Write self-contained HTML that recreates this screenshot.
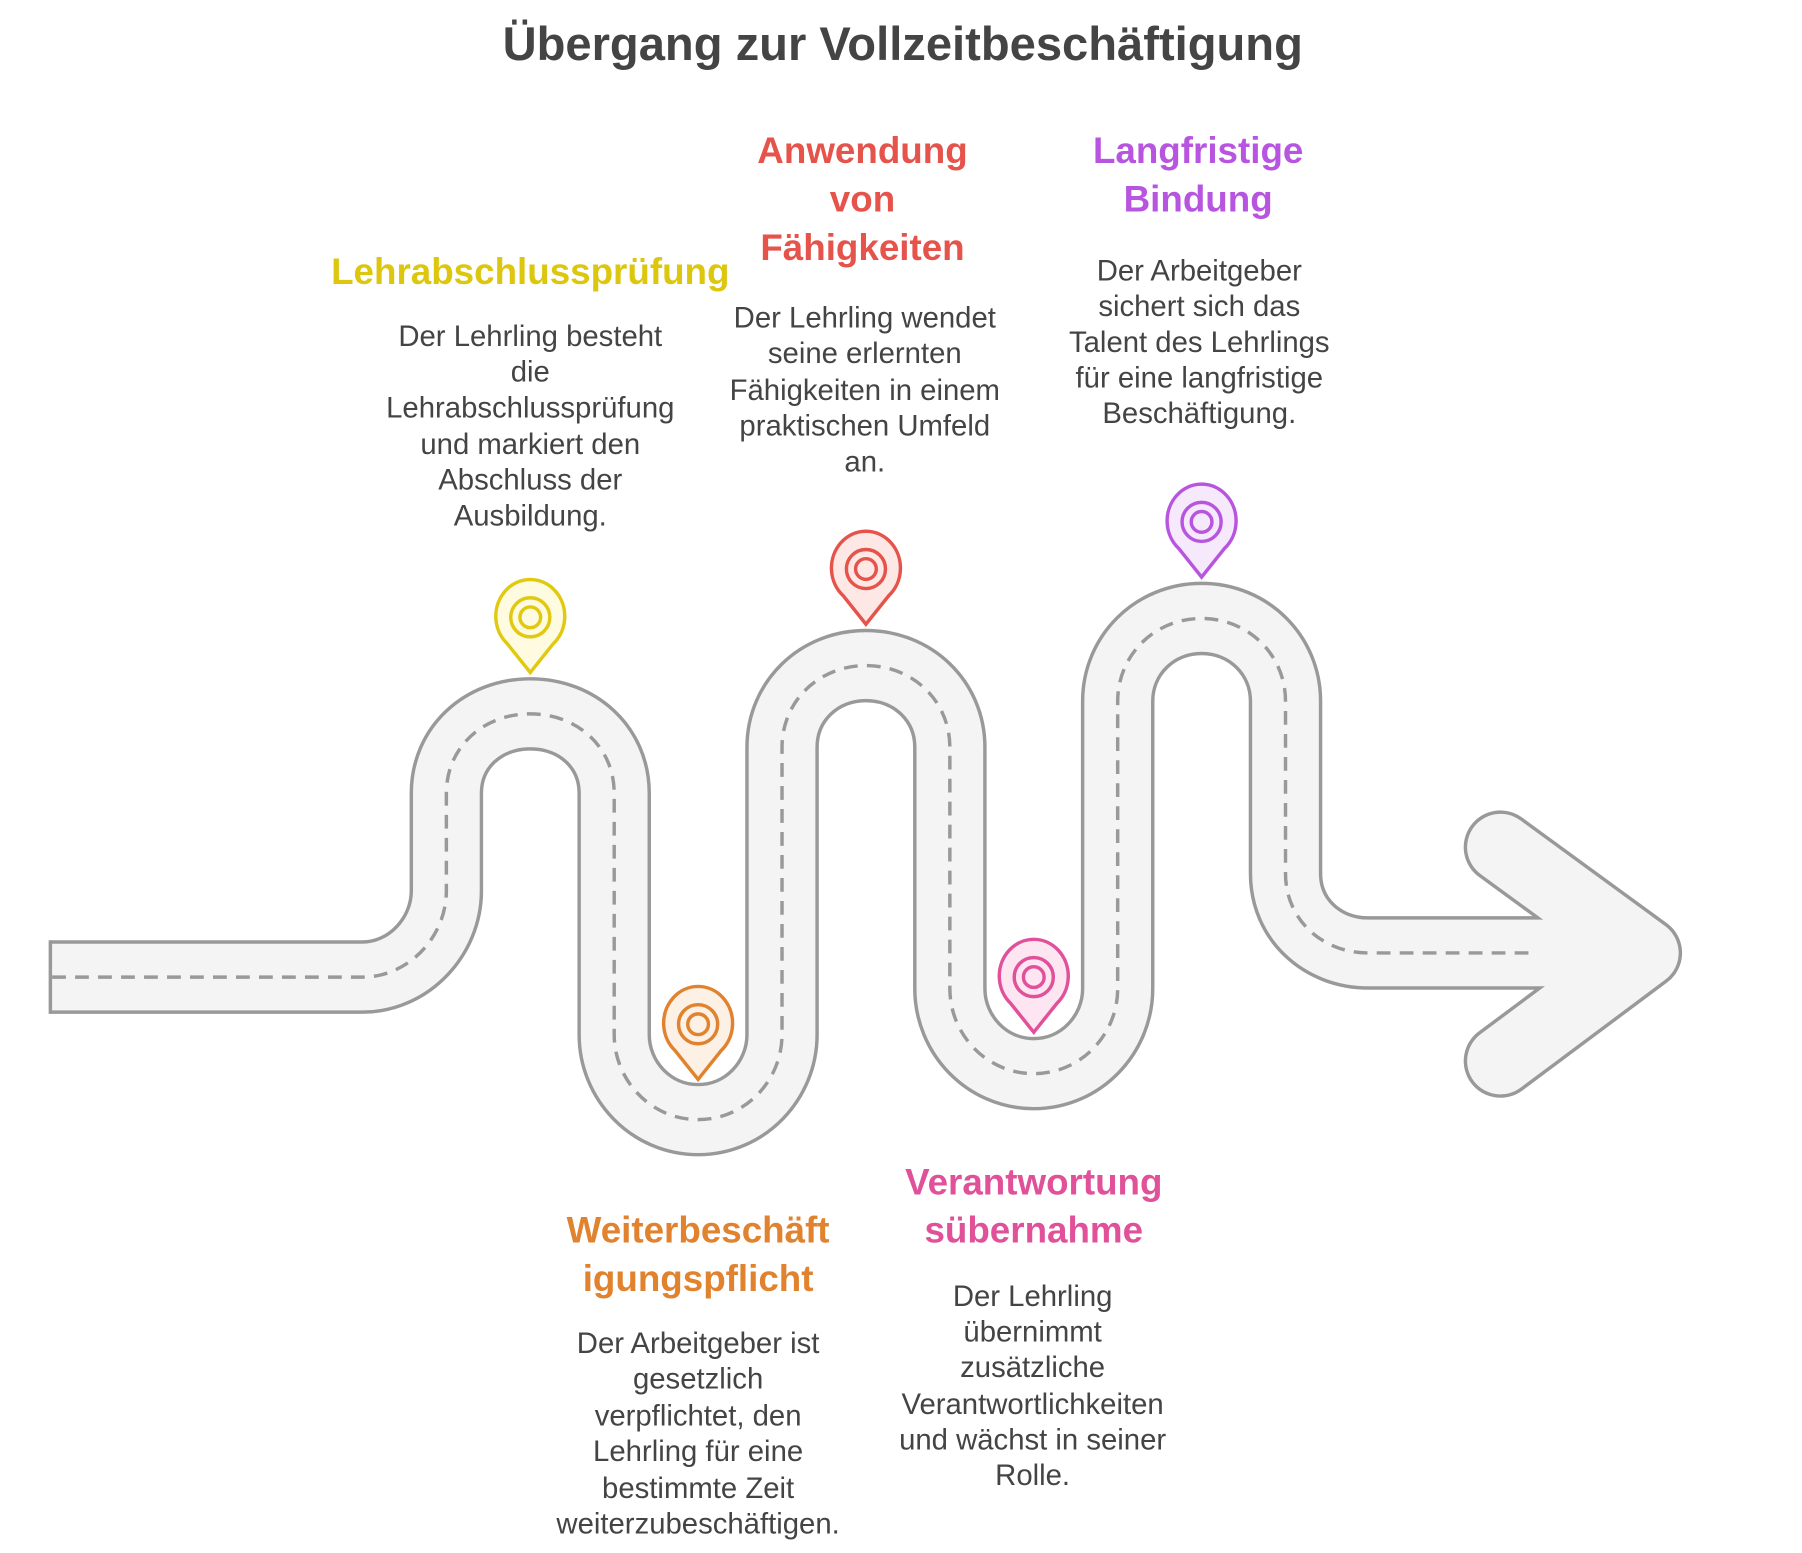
<!DOCTYPE html>
<html><head><meta charset="utf-8"><style>
html,body{margin:0;padding:0;background:#fff}
svg{display:block}
text{font-family:"Liberation Sans",Arial,sans-serif}
.h{font-weight:bold;font-size:32px;text-anchor:middle}
.b{font-size:25.5px;fill:#444;text-anchor:middle}
</style></head><body>
<svg width="1802" height="1553" viewBox="0 0 1567 1351" xmlns="http://www.w3.org/2000/svg">
<text x="785" y="52" font-size="41" font-weight="bold" fill="#444" text-anchor="middle">Übergang zur Vollzeitbeschäftigung</text>
<defs>
<path id="road" d="M43 850 L315 850 C355 850 388 815 388 775 L388 690 C388 650 420 621 461 621 C502 621 534 650 534 690 L534 900 C534 940 566 974 607 974 C648 974 680 940 680 900 L680 650 C680 610 712 579 753 579 C794 579 826 610 826 650 L826 860 C826 900 858 934 899 934 C940 934 972 900 972 860 L972 610 C972 570 1004 538 1045 538 C1086 538 1118 570 1118 610 L1118 760 C1118 800 1150 829 1190 829 L1390 829"/>
</defs>
<use href="#road" fill="none" stroke="#999" stroke-width="64"/>
<polyline points="1305,737 1431,829 1305,923" fill="none" stroke="#999" stroke-width="64" stroke-linecap="round" stroke-linejoin="round"/>
<polyline points="1305,737 1431,829 1305,923" fill="none" stroke="#f4f4f4" stroke-width="58" stroke-linecap="round" stroke-linejoin="round"/>
<use href="#road" fill="none" stroke="#f4f4f4" stroke-width="58"/>
<rect x="42" y="818" width="3" height="64" fill="#999"/>
<path d="M45 850 L315 850 C355 850 388 815 388 775 L388 690 C388 650 420 621 461 621 C502 621 534 650 534 690 L534 900 C534 940 566 974 607 974 C648 974 680 940 680 900 L680 650 C680 610 712 579 753 579 C794 579 826 610 826 650 L826 860 C826 900 858 934 899 934 C940 934 972 900 972 860 L972 610 C972 570 1004 538 1045 538 C1086 538 1118 570 1118 610 L1118 760 C1118 800 1150 829 1190 829 L1330 829" fill="none" stroke="#999" stroke-width="3" stroke-dasharray="12 8"/>
<g stroke-width="3">
<g transform="translate(461,537)" stroke="#e0c910" fill="#fffbe0"><path d="M-20 23 A30 32 0 1 1 20 23 L0 48 Z"/><circle r="17" fill="none"/><circle r="9" fill="none"/></g>
<g transform="translate(607,891)" stroke="#e0822e" fill="#fdf0e4"><path d="M-20 23 A30 32 0 1 1 20 23 L0 48 Z"/><circle r="17" fill="none"/><circle r="9" fill="none"/></g>
<g transform="translate(753,495)" stroke="#e5534b" fill="#fde8e6"><path d="M-20 23 A30 32 0 1 1 20 23 L0 48 Z"/><circle r="17" fill="none"/><circle r="9" fill="none"/></g>
<g transform="translate(899,850)" stroke="#e0519a" fill="#fde6f1"><path d="M-20 23 A30 32 0 1 1 20 23 L0 48 Z"/><circle r="17" fill="none"/><circle r="9" fill="none"/></g>
<g transform="translate(1045,454)" stroke="#b855e0" fill="#f6e9fc"><path d="M-20 23 A30 32 0 1 1 20 23 L0 48 Z"/><circle r="17" fill="none"/><circle r="9" fill="none"/></g>
</g>
<text class="h" fill="#dcc70e" x="461" y="247">Lehrabschlussprüfung</text>
<text class="b" x="461"><tspan x="461" y="301">Der Lehrling besteht</tspan><tspan x="461" y="332">die</tspan><tspan x="461" y="363">Lehrabschlussprüfung</tspan><tspan x="461" y="395">und markiert den</tspan><tspan x="461" y="426">Abschluss der</tspan><tspan x="461" y="457">Ausbildung.</tspan></text>
<text class="h" fill="#e5534b"><tspan x="750" y="142">Anwendung</tspan><tspan x="750" y="184">von</tspan><tspan x="750" y="226">Fähigkeiten</tspan></text>
<text class="b"><tspan x="752" y="285">Der Lehrling wendet</tspan><tspan x="752" y="316">seine erlernten</tspan><tspan x="752" y="348">Fähigkeiten in einem</tspan><tspan x="752" y="379">praktischen Umfeld</tspan><tspan x="752" y="410">an.</tspan></text>
<text class="h" fill="#b855e0"><tspan x="1042" y="142">Langfristige</tspan><tspan x="1042" y="184">Bindung</tspan></text>
<text class="b"><tspan x="1043" y="244">Der Arbeitgeber</tspan><tspan x="1043" y="275">sichert sich das</tspan><tspan x="1043" y="306">Talent des Lehrlings</tspan><tspan x="1043" y="337">für eine langfristige</tspan><tspan x="1043" y="368">Beschäftigung.</tspan></text>
<text class="h" fill="#e0822e"><tspan x="607" y="1081">Weiterbeschäft</tspan><tspan x="607" y="1123">igungspflicht</tspan></text>
<text class="b"><tspan x="607" y="1177">Der Arbeitgeber ist</tspan><tspan x="607" y="1208">gesetzlich</tspan><tspan x="607" y="1240">verpflichtet, den</tspan><tspan x="607" y="1271">Lehrling für eine</tspan><tspan x="607" y="1303">bestimmte Zeit</tspan><tspan x="607" y="1334">weiterzubeschäftigen.</tspan></text>
<text class="h" fill="#e0519a"><tspan x="899" y="1039">Verantwortung</tspan><tspan x="899" y="1081">sübernahme</tspan></text>
<text class="b"><tspan x="898" y="1136">Der Lehrling</tspan><tspan x="898" y="1167">übernimmt</tspan><tspan x="898" y="1198">zusätzliche</tspan><tspan x="898" y="1230">Verantwortlichkeiten</tspan><tspan x="898" y="1261">und wächst in seiner</tspan><tspan x="898" y="1292">Rolle.</tspan></text>
</svg>
</body></html>
